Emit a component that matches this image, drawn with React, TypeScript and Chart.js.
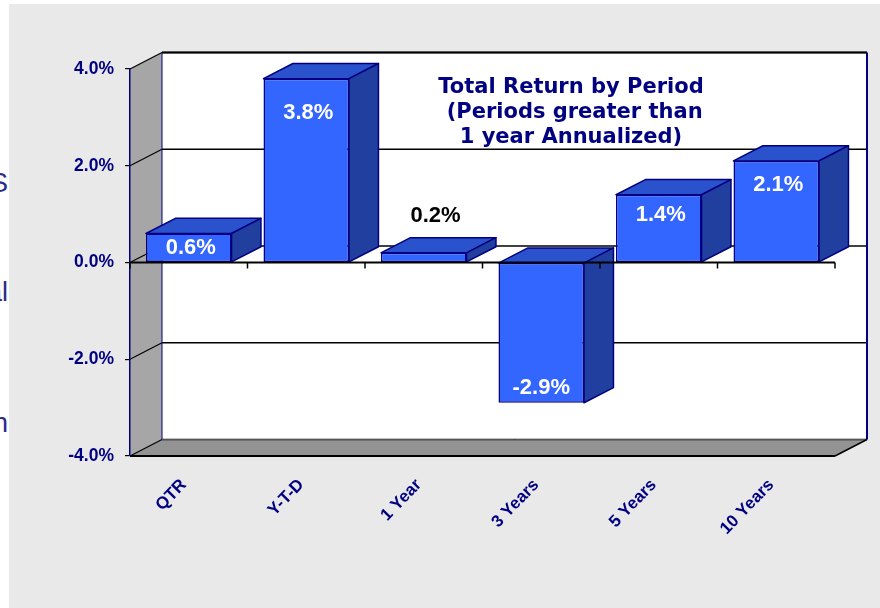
import React, { useEffect, useRef } from 'react';
import { Chart, registerables } from 'chart.js';

Chart.register(...registerables);

// ---- data ----
const CATEGORIES = ['QTR', 'Y-T-D', '1 Year', '3 Years', '5 Years', '10 Years'];
const RETURNS = [0.6, 3.8, 0.2, -2.9, 1.4, 2.1];
const Y_TICKS = [-4, -2, 0, 2, 4];
const TITLE_LINES = ['Total Return by Period', ' (Periods greater than', '1 year Annualized)'];

// ---- styles ----
const NAVY = '#000080';
const FRONT = '#3366FF';
const TOP = '#2A52CC';
const SIDE = '#213F9F';
const WALL_DX = 32;
const WALL_DY = -16.5;
const BAR_DEPTH = 0.92;

function poly(ctx: CanvasRenderingContext2D, pts: number[][], fill?: string, stroke?: string, lw = 1) {
  ctx.beginPath();
  ctx.moveTo(pts[0][0], pts[0][1]);
  for (let i = 1; i < pts.length; i++) ctx.lineTo(pts[i][0], pts[i][1]);
  ctx.closePath();
  if (fill) { ctx.fillStyle = fill; ctx.fill(); }
  if (stroke) { ctx.strokeStyle = stroke; ctx.lineWidth = lw; ctx.stroke(); }
}
function line(ctx: CanvasRenderingContext2D, x1: number, y1: number, x2: number, y2: number, color: string, lw: number) {
  ctx.beginPath();
  ctx.moveTo(x1, y1);
  ctx.lineTo(x2, y2);
  ctx.strokeStyle = color;
  ctx.lineWidth = lw;
  ctx.stroke();
}

const threeD = {
  id: 'threeD',
  beforeDraw(chart: any) {
    const ctx: CanvasRenderingContext2D = chart.ctx;
    const { left, right, top, bottom } = chart.chartArea;
    const ys = chart.scales.y;
    const dx = WALL_DX, dy = WALL_DY;
    ctx.save();
    // back wall
    ctx.fillStyle = '#ffffff';
    ctx.fillRect(left + dx, top + dy, right - left, bottom - top);
    // left side wall
    poly(ctx, [[left, top], [left + dx, top + dy], [left + dx, bottom + dy], [left, bottom]], '#a6a6a6');
    // floor
    poly(ctx, [[left, bottom], [left + dx, bottom + dy], [right + dx, bottom + dy], [right, bottom]], '#939393');
    // gridlines
    Y_TICKS.forEach((v) => {
      const py = ys.getPixelForValue(v);
      line(ctx, left + dx, py + dy, right + dx, py + dy, '#000', 1.5);
      line(ctx, left, py, left + dx, py + dy, '#000', 1.2);
    });
    // wall edges
    line(ctx, left + dx, top + dy, left + dx, bottom + dy, NAVY, 1);
    line(ctx, left + dx, top + dy, right + dx, top + dy, '#000', 2);
    line(ctx, right + dx, top + dy, right + dx, bottom + dy, NAVY, 2);
    line(ctx, left + dx, bottom + dy, right + dx, bottom + dy, '#555', 1);
    line(ctx, right, bottom, right + dx, bottom + dy, '#000', 1.5);
    line(ctx, left, bottom, right, bottom, '#000', 2);
    ctx.restore();
  },
  afterDatasetsDraw(chart: any) {
    const ctx: CanvasRenderingContext2D = chart.ctx;
    const { left, right, top } = chart.chartArea;
    const ys = chart.scales.y;
    const xs = chart.scales.x;
    const bdx = WALL_DX * BAR_DEPTH, bdy = WALL_DY * BAR_DEPTH;
    const meta = chart.getDatasetMeta(0);
    ctx.save();
    ctx.lineJoin = 'round';
    const boxes: any[] = [];
    meta.data.forEach((bar: any) => {
      const { x, y, base, width } = bar.getProps(['x', 'y', 'base', 'width'], true);
      const L = x - width / 2, R = x + width / 2;
      const t = Math.min(y, base), b = Math.max(y, base);
      poly(ctx, [[L, t], [L + bdx, t + bdy], [R + bdx, t + bdy], [R, t]], TOP, NAVY, 1.5);
      poly(ctx, [[R, t], [R + bdx, t + bdy], [R + bdx, b + bdy], [R, b]], SIDE, NAVY, 1.5);
      boxes.push({ x, t, b });
    });
    // front category axis at zero
    const y0 = ys.getPixelForValue(0);
    line(ctx, left, y0, right, y0, '#000', 2);
    const step = xs.getPixelForValue(1) - xs.getPixelForValue(0);
    for (let i = 0; i <= CATEGORIES.length; i++) {
      const bx = xs.getPixelForValue(0) - step / 2 + i * step;
      line(ctx, bx, y0, bx, y0 + 6, '#000', 1.5);
    }
    // value labels
    ctx.font = 'bold 22px "Liberation Sans", Arial, sans-serif';
    ctx.textAlign = 'center';
    ctx.textBaseline = 'middle';
    boxes.forEach((bx, i) => {
      const v = RETURNS[i];
      const txt = v.toFixed(1) + '%';
      const h = bx.b - bx.t;
      if (v < 0) {
        ctx.fillStyle = '#ffffff';
        ctx.fillText(txt, bx.x, bx.b - 15);
      } else if (h >= 26) {
        ctx.fillStyle = '#ffffff';
        ctx.fillText(txt, bx.x + 2, bx.t + Math.min(h / 2, 12 + 0.12 * h));
      } else {
        ctx.fillStyle = '#000000';
        ctx.fillText(txt, bx.x + bdx / 2 - 3, bx.t + bdy - 22);
      }
    });
    // title
    ctx.font = 'bold 21px "DejaVu Sans", Verdana, sans-serif';
    ctx.fillStyle = NAVY;
    const tx = left + 0.6255 * (right - left);
    TITLE_LINES.forEach((s, i) => ctx.fillText(s, tx, top + 19 + i * 25));
    ctx.restore();
  },
};

export default function App() {
  const ref = useRef<HTMLCanvasElement>(null);
  useEffect(() => {
    const chart = new Chart(ref.current as HTMLCanvasElement, {
      type: 'bar',
      data: {
        labels: CATEGORIES,
        datasets: [
          {
            data: RETURNS,
            backgroundColor: FRONT,
            borderColor: NAVY,
            borderWidth: 1.5,
            borderSkipped: false,
            categoryPercentage: 1,
            barPercentage: 0.728,
          },
        ],
      },
      options: {
        responsive: false,
        animation: false,
        devicePixelRatio: 1,
        layout: { padding: { top: 69, right: 45, bottom: 0, left: 0 } },
        plugins: { legend: { display: false }, tooltip: { enabled: false }, title: { display: false } },
        scales: {
          x: {
            type: 'category',
            afterFit: (s: any) => {
              s.height = 152;
            },
            grid: { display: false, drawTicks: false },
            border: { display: false },
            ticks: {
              autoSkip: false,
              minRotation: 46,
              maxRotation: 46,
              padding: 19,
              labelOffset: -5,
              color: NAVY,
              font: { family: '"Liberation Sans", Arial, sans-serif', weight: 'bold', size: 17 },
            },
          },
          y: {
            min: -4,
            max: 4,
            afterBuildTicks: (s: any) => {
              s.ticks = Y_TICKS.map((v) => ({ value: v }));
            },
            afterFit: (s: any) => {
              s.width = 130;
            },
            grid: { drawOnChartArea: false, drawTicks: true, tickLength: 5, color: '#000', tickColor: '#000', lineWidth: 1.2 },
            border: { display: true, color: NAVY, width: 1.5 },
            ticks: {
              padding: 11,
              color: NAVY,
              font: { family: '"Liberation Sans", Arial, sans-serif', weight: 'bold', size: 17.5 },
              callback: (v: any) => Number(v).toFixed(1) + '%',
            },
          },
        },
      } as any,
      plugins: [threeD],
    });
    return () => chart.destroy();
  }, []);

  const frag: React.CSSProperties = {
    position: 'absolute',
    right: 872,
    fontFamily: '"Liberation Sans", Arial, sans-serif',
    fontSize: 27,
    lineHeight: '27px',
    color: '#2b2b8c',
    whiteSpace: 'nowrap',
  };

  return (
    <div style={{ position: 'fixed', left: 0, top: 0, width: 880, height: 608, background: '#ffffff', overflow: 'hidden' }}>
      <div style={{ position: 'absolute', left: 9, top: 4, right: 0, bottom: 0, background: '#e9e9e9' }} />
      <span style={{ ...frag, top: 170 }}>S</span>
      <span style={{ ...frag, top: 279 }}>al</span>
      <span style={{ ...frag, top: 410 }}>n</span>
      <canvas ref={ref} width={880} height={608} style={{ position: 'absolute', left: 0, top: 0, width: 880, height: 608 }} />
    </div>
  );
}
